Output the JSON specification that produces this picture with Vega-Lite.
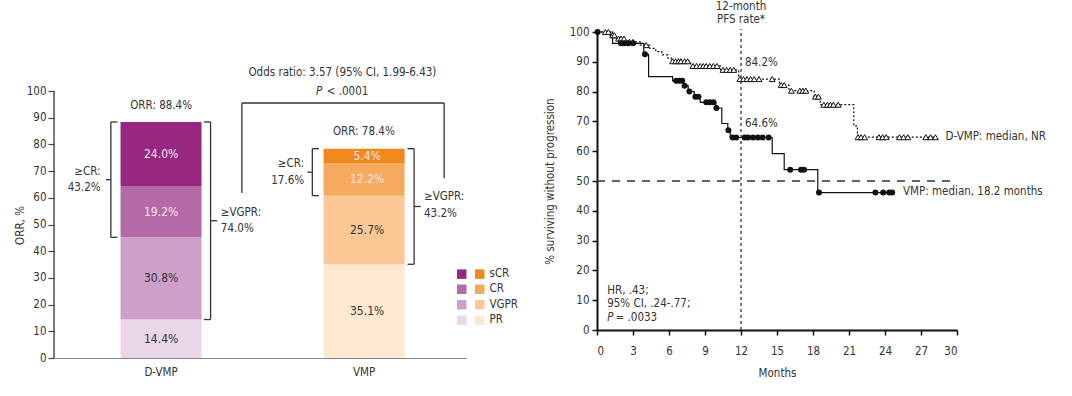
{
  "$schema": "https://vega.github.io/schema/vega-lite/v6.json",
  "background": "white",
  "padding": {"left": 14, "top": 0, "right": 5, "bottom": 5},
  "bounds": "flush",
  "spacing": 131,
  "config": {
    "font": "DejaVu Sans Condensed, DejaVu Sans, sans-serif",
    "view": {"stroke": null},
    "axis": {"grid": false, "labelFontSize": 11.5, "titleFontSize": 11.5, "titleFontWeight": "normal", "labelColor": "#333", "titleColor": "#333"},
    "legend": {"labelFontSize": 11.5, "labelColor": "#333"},
    "text": {"fontSize": 11.5, "color": "#333"}
  },
  "datasets": {
    "orr": [
      {"arm": "D-VMP", "level": "PR", "key": "D PR", "rank": 1, "value": 14.4, "label": "14.4%"},
      {"arm": "D-VMP", "level": "VGPR", "key": "D VGPR", "rank": 2, "value": 30.8, "label": "30.8%"},
      {"arm": "D-VMP", "level": "CR", "key": "D CR", "rank": 3, "value": 19.2, "label": "19.2%"},
      {"arm": "D-VMP", "level": "sCR", "key": "D sCR", "rank": 4, "value": 24.0, "label": "24.0%"},
      {"arm": "VMP", "level": "PR", "key": "V PR", "rank": 1, "value": 35.1, "label": "35.1%"},
      {"arm": "VMP", "level": "VGPR", "key": "V VGPR", "rank": 2, "value": 25.7, "label": "25.7%"},
      {"arm": "VMP", "level": "CR", "key": "V CR", "rank": 3, "value": 12.2, "label": "12.2%"},
      {"arm": "VMP", "level": "sCR", "key": "V sCR", "rank": 4, "value": 5.4, "label": "5.4%"}
    ],
    "lbrk": [
      {"x": 13.8, "x2": 13.8, "y": 45.2, "y2": 88.4},
      {"x": 13.8, "x2": 15.4, "y": 88.4, "y2": 88.4},
      {"x": 13.8, "x2": 15.4, "y": 45.2, "y2": 45.2},
      {"x": 12.6, "x2": 13.8, "y": 66.8, "y2": 66.8},
      {"x": 38.0, "x2": 38.0, "y": 14.4, "y2": 88.4},
      {"x": 36.4, "x2": 38.0, "y": 88.4, "y2": 88.4},
      {"x": 36.4, "x2": 38.0, "y": 14.4, "y2": 14.4},
      {"x": 38.0, "x2": 39.6, "y": 51.4, "y2": 51.4},
      {"x": 62.7, "x2": 62.7, "y": 60.8, "y2": 78.4},
      {"x": 62.7, "x2": 64.3, "y": 78.4, "y2": 78.4},
      {"x": 62.7, "x2": 64.3, "y": 60.8, "y2": 60.8},
      {"x": 61.5, "x2": 62.7, "y": 69.6, "y2": 69.6},
      {"x": 87.4, "x2": 87.4, "y": 35.1, "y2": 78.4},
      {"x": 85.8, "x2": 87.4, "y": 78.4, "y2": 78.4},
      {"x": 85.8, "x2": 87.4, "y": 35.1, "y2": 35.1},
      {"x": 87.4, "x2": 89.0, "y": 56.75, "y2": 56.75},
      {"x": 45.6, "x2": 45.6, "y": 61.8, "y2": 95.5},
      {"x": 45.6, "x2": 94.7, "y": 95.5, "y2": 95.5},
      {"x": 94.7, "x2": 94.7, "y": 67.3, "y2": 95.5}
    ],
    "ltc": [
      {"x": 26.0, "y": 94.4, "text": "ORR: 88.4%"},
      {"x": 75.2, "y": 84.6, "text": "ORR: 78.4%"},
      {"x": 70.0, "y": 106.7, "text": "Odds ratio: 3.57 (95% CI, 1.99-6.43)"}
    ],
    "ltr": [
      {"x": 11.3, "y": 69.8, "text": "≥CR:"},
      {"x": 11.3, "y": 63.8, "text": "43.2%"},
      {"x": 60.7, "y": 72.5, "text": "≥CR:"},
      {"x": 60.7, "y": 66.4, "text": "17.6%"}
    ],
    "ltl": [
      {"x": 40.5, "y": 54.2, "text": "≥VGPR:"},
      {"x": 40.5, "y": 48.2, "text": "74.0%"},
      {"x": 89.8, "y": 60.2, "text": "≥VGPR:"},
      {"x": 89.8, "y": 53.9, "text": "43.2%"},
      {"x": 66.2, "y": 99.6, "text": "< .0001"}
    ],
    "lti": [
      {"x": 63.6, "y": 99.6, "text": "P"}
    ],
    "km": [
      {"arm": "D-VMP", "t": 0, "s": 100},
      {"arm": "D-VMP", "t": 1.1, "s": 98.9},
      {"arm": "D-VMP", "t": 1.6, "s": 97.8},
      {"arm": "D-VMP", "t": 2.4, "s": 96.7},
      {"arm": "D-VMP", "t": 3.6, "s": 95.6},
      {"arm": "D-VMP", "t": 4.4, "s": 94.5},
      {"arm": "D-VMP", "t": 4.9, "s": 93.4},
      {"arm": "D-VMP", "t": 5.4, "s": 92.3},
      {"arm": "D-VMP", "t": 5.9, "s": 91.2},
      {"arm": "D-VMP", "t": 6.2, "s": 90.2},
      {"arm": "D-VMP", "t": 7.8, "s": 88.6},
      {"arm": "D-VMP", "t": 10.3, "s": 87.3},
      {"arm": "D-VMP", "t": 11.8, "s": 84.2},
      {"arm": "D-VMP", "t": 15.2, "s": 82.2},
      {"arm": "D-VMP", "t": 16.0, "s": 80.3},
      {"arm": "D-VMP", "t": 18.1, "s": 78.3},
      {"arm": "D-VMP", "t": 18.6, "s": 75.6},
      {"arm": "D-VMP", "t": 21.4, "s": 68.5},
      {"arm": "D-VMP", "t": 21.7, "s": 64.7},
      {"arm": "D-VMP", "t": 28.2, "s": 64.7},
      {"arm": "VMP", "t": 0, "s": 100},
      {"arm": "VMP", "t": 1.3, "s": 96.2},
      {"arm": "VMP", "t": 3.9, "s": 92.5},
      {"arm": "VMP", "t": 4.3, "s": 85.0},
      {"arm": "VMP", "t": 6.3, "s": 83.6},
      {"arm": "VMP", "t": 7.2, "s": 82.0},
      {"arm": "VMP", "t": 7.6, "s": 80.0},
      {"arm": "VMP", "t": 8.1, "s": 78.3},
      {"arm": "VMP", "t": 8.6, "s": 76.4},
      {"arm": "VMP", "t": 9.9, "s": 74.5},
      {"arm": "VMP", "t": 10.4, "s": 69.3},
      {"arm": "VMP", "t": 10.9, "s": 67.0},
      {"arm": "VMP", "t": 11.1, "s": 64.6},
      {"arm": "VMP", "t": 14.6, "s": 59.2},
      {"arm": "VMP", "t": 15.6, "s": 53.8},
      {"arm": "VMP", "t": 18.4, "s": 46.1},
      {"arm": "VMP", "t": 24.7, "s": 46.1}
    ],
    "cens": [
      {"arm": "D-VMP", "t": 0.7, "s": 100}, {"arm": "D-VMP", "t": 0.95, "s": 100},
      {"arm": "D-VMP", "t": 1.3, "s": 98.9}, {"arm": "D-VMP", "t": 1.45, "s": 98.9},
      {"arm": "D-VMP", "t": 1.8, "s": 97.8}, {"arm": "D-VMP", "t": 2.0, "s": 97.8}, {"arm": "D-VMP", "t": 2.25, "s": 97.8},
      {"arm": "D-VMP", "t": 2.7, "s": 96.7}, {"arm": "D-VMP", "t": 3.0, "s": 96.7},
      {"arm": "D-VMP", "t": 4.1, "s": 95.6},
      {"arm": "D-VMP", "t": 6.3, "s": 90.2}, {"arm": "D-VMP", "t": 6.55, "s": 90.2}, {"arm": "D-VMP", "t": 6.8, "s": 90.2},
      {"arm": "D-VMP", "t": 7.0, "s": 90.2}, {"arm": "D-VMP", "t": 7.3, "s": 90.2}, {"arm": "D-VMP", "t": 7.55, "s": 90.2},
      {"arm": "D-VMP", "t": 8.0, "s": 88.6}, {"arm": "D-VMP", "t": 8.3, "s": 88.6}, {"arm": "D-VMP", "t": 8.6, "s": 88.6},
      {"arm": "D-VMP", "t": 8.85, "s": 88.6}, {"arm": "D-VMP", "t": 9.1, "s": 88.6}, {"arm": "D-VMP", "t": 9.4, "s": 88.6},
      {"arm": "D-VMP", "t": 9.7, "s": 88.6}, {"arm": "D-VMP", "t": 10.0, "s": 88.6},
      {"arm": "D-VMP", "t": 10.5, "s": 87.3}, {"arm": "D-VMP", "t": 10.8, "s": 87.3}, {"arm": "D-VMP", "t": 11.1, "s": 87.3}, {"arm": "D-VMP", "t": 11.4, "s": 87.3},
      {"arm": "D-VMP", "t": 11.9, "s": 84.2}, {"arm": "D-VMP", "t": 12.2, "s": 84.2}, {"arm": "D-VMP", "t": 12.5, "s": 84.2},
      {"arm": "D-VMP", "t": 12.8, "s": 84.2}, {"arm": "D-VMP", "t": 13.1, "s": 84.2}, {"arm": "D-VMP", "t": 13.5, "s": 84.2},
      {"arm": "D-VMP", "t": 14.6, "s": 84.2},
      {"arm": "D-VMP", "t": 15.35, "s": 82.2}, {"arm": "D-VMP", "t": 15.6, "s": 82.2},
      {"arm": "D-VMP", "t": 16.2, "s": 80.3}, {"arm": "D-VMP", "t": 16.9, "s": 80.3}, {"arm": "D-VMP", "t": 17.15, "s": 80.3}, {"arm": "D-VMP", "t": 17.4, "s": 80.3},
      {"arm": "D-VMP", "t": 18.2, "s": 78.3}, {"arm": "D-VMP", "t": 18.45, "s": 78.3},
      {"arm": "D-VMP", "t": 18.9, "s": 75.6}, {"arm": "D-VMP", "t": 19.2, "s": 75.6}, {"arm": "D-VMP", "t": 19.45, "s": 75.6},
      {"arm": "D-VMP", "t": 19.7, "s": 75.6}, {"arm": "D-VMP", "t": 20.1, "s": 75.6},
      {"arm": "D-VMP", "t": 21.75, "s": 64.7}, {"arm": "D-VMP", "t": 22.0, "s": 64.7}, {"arm": "D-VMP", "t": 22.3, "s": 64.7},
      {"arm": "D-VMP", "t": 23.5, "s": 64.7}, {"arm": "D-VMP", "t": 23.8, "s": 64.7}, {"arm": "D-VMP", "t": 24.1, "s": 64.7},
      {"arm": "D-VMP", "t": 25.2, "s": 64.7}, {"arm": "D-VMP", "t": 25.55, "s": 64.7}, {"arm": "D-VMP", "t": 25.9, "s": 64.7},
      {"arm": "D-VMP", "t": 27.4, "s": 64.7}, {"arm": "D-VMP", "t": 27.8, "s": 64.7}, {"arm": "D-VMP", "t": 28.2, "s": 64.7},
      {"arm": "VMP", "t": 0.05, "s": 100},
      {"arm": "VMP", "t": 2.0, "s": 96.2}, {"arm": "VMP", "t": 2.3, "s": 96.2}, {"arm": "VMP", "t": 2.6, "s": 96.2}, {"arm": "VMP", "t": 3.0, "s": 96.2},
      {"arm": "VMP", "t": 4.0, "s": 92.5},
      {"arm": "VMP", "t": 6.6, "s": 83.6}, {"arm": "VMP", "t": 6.85, "s": 83.6}, {"arm": "VMP", "t": 7.1, "s": 83.6},
      {"arm": "VMP", "t": 7.3, "s": 82.0}, {"arm": "VMP", "t": 7.7, "s": 80.0},
      {"arm": "VMP", "t": 8.2, "s": 78.3}, {"arm": "VMP", "t": 8.45, "s": 78.3},
      {"arm": "VMP", "t": 9.1, "s": 76.4}, {"arm": "VMP", "t": 9.4, "s": 76.4}, {"arm": "VMP", "t": 9.7, "s": 76.4},
      {"arm": "VMP", "t": 9.95, "s": 74.5}, {"arm": "VMP", "t": 10.95, "s": 67.0},
      {"arm": "VMP", "t": 11.3, "s": 64.6}, {"arm": "VMP", "t": 11.6, "s": 64.6}, {"arm": "VMP", "t": 12.3, "s": 64.6},
      {"arm": "VMP", "t": 12.6, "s": 64.6}, {"arm": "VMP", "t": 13.0, "s": 64.6}, {"arm": "VMP", "t": 13.4, "s": 64.6},
      {"arm": "VMP", "t": 13.8, "s": 64.6}, {"arm": "VMP", "t": 14.3, "s": 64.6},
      {"arm": "VMP", "t": 16.1, "s": 53.8}, {"arm": "VMP", "t": 17.0, "s": 53.8}, {"arm": "VMP", "t": 17.25, "s": 53.8},
      {"arm": "VMP", "t": 18.5, "s": 46.1}, {"arm": "VMP", "t": 23.2, "s": 46.1}, {"arm": "VMP", "t": 23.85, "s": 46.1},
      {"arm": "VMP", "t": 24.35, "s": 46.1}, {"arm": "VMP", "t": 24.6, "s": 46.1}
    ],
    "rtc": [
      {"x": 12, "y": 108.4, "text": "12-month"},
      {"x": 12, "y": 103.9, "text": "PFS rate*"}
    ],
    "rtl": [
      {"x": 12.33, "y": 89.6, "text": "84.2%"},
      {"x": 12.33, "y": 69.2, "text": "64.6%"},
      {"x": 29.05, "y": 64.9, "text": "D-VMP: median, NR"},
      {"x": 25.5, "y": 46.4, "text": "VMP: median, 18.2 months"},
      {"x": 0.85, "y": 13.1, "text": "HR, .43;"},
      {"x": 0.85, "y": 8.7, "text": "95% CI, .24-.77;"},
      {"x": 1.55, "y": 4.0, "text": "= .0033"}
    ],
    "rti": [
      {"x": 0.85, "y": 4.0, "text": "P"}
    ]
  },
  "hconcat": [
    {
      "width": 412,
      "height": 326,
      "resolve": {"scale": {"x": "independent"}},
      "layer": [
        {
          "data": {"name": "orr"},
          "mark": {"type": "bar"},
          "encoding": {
            "x": {"field": "arm", "type": "nominal", "sort": ["D-VMP", "VMP"],
                  "scale": {"paddingInner": 0.601, "paddingOuter": 0.315, "align": 0.52},
                  "axis": {"title": null, "labelAngle": 0, "ticks": false, "tickSize": 0, "domainColor": "#888", "domainWidth": 1, "labelPadding": 8}},
            "y": {"field": "value", "type": "quantitative", "stack": "zero",
                  "scale": {"domain": [0, 122.1], "nice": false},
                  "axis": {"values": [0, 10, 20, 30, 40, 50, 60, 70, 80, 90, 100], "tickCount": 20, "labelOverlap": false, "domain": false, "tickColor": "#444", "tickSize": 6, "tickWidth": 1.2, "labelPadding": 2, "title": "ORR, %", "titleY": 193, "titlePadding": 1}},
            "color": {"field": "key", "type": "nominal",
                      "scale": {"domain": ["D sCR", "D CR", "D VGPR", "D PR", "V sCR", "V CR", "V VGPR", "V PR"],
                                "range": ["#972781", "#b46aa7", "#cda0ca", "#e9d6e9", "#f0891d", "#f6aa5f", "#fbc895", "#fde8d2"]},
                      "legend": {"title": null, "orient": "none", "legendX": 402, "legendY": 236, "columns": 2, "columnPadding": 2, "rowPadding": 2.5, "padding": 0,
                                 "symbolType": "square", "symbolSize": 90, "symbolStrokeWidth": 0, "symbolOpacity": 1, "labelOffset": 4,
                                 "labelExpr": "indexof(datum.label, 'D ') == 0 ? '' : substring(datum.label, 2)"}},
            "order": {"field": "rank", "type": "quantitative"}
          }
        },
        {
          "data": {"name": "orr"},
          "mark": {"type": "text", "fontSize": 12},
          "encoding": {
            "x": {"field": "arm", "type": "nominal", "sort": ["D-VMP", "VMP"], "scale": {"paddingInner": 0.601, "paddingOuter": 0.315, "align": 0.52}, "axis": null},
            "y": {"field": "value", "type": "quantitative", "stack": "zero", "bandPosition": 0.5},
            "detail": {"field": "key"},
            "order": {"field": "rank", "type": "quantitative"},
            "text": {"field": "label"},
            "color": {"condition": {"test": "datum.level == 'sCR' || datum.level == 'CR'", "value": "#fbe6f3"}, "value": "#333333"}
          }
        },
        {
          "data": {"values": [{}]},
          "mark": {"type": "rule", "color": "#444", "strokeWidth": 1.4},
          "encoding": {
            "x": {"datum": 0, "type": "quantitative", "scale": {"domain": [0, 100]}, "axis": null},
            "y": {"datum": 0, "type": "quantitative"},
            "y2": {"datum": 100}
          }
        },
        {
          "data": {"name": "lbrk"},
          "mark": {"type": "rule", "color": "#333", "strokeWidth": 1.3},
          "encoding": {
            "x": {"field": "x", "type": "quantitative", "scale": {"domain": [0, 100]}, "axis": null},
            "x2": {"field": "x2"},
            "y": {"field": "y", "type": "quantitative"},
            "y2": {"field": "y2"}
          }
        },
        {
          "data": {"name": "ltc"},
          "mark": {"type": "text", "align": "center"},
          "encoding": {
            "x": {"field": "x", "type": "quantitative", "scale": {"domain": [0, 100]}, "axis": null},
            "y": {"field": "y", "type": "quantitative"},
            "text": {"field": "text"}
          }
        },
        {
          "data": {"name": "ltr"},
          "mark": {"type": "text", "align": "right"},
          "encoding": {
            "x": {"field": "x", "type": "quantitative", "scale": {"domain": [0, 100]}, "axis": null},
            "y": {"field": "y", "type": "quantitative"},
            "text": {"field": "text"}
          }
        },
        {
          "data": {"name": "ltl"},
          "mark": {"type": "text", "align": "left"},
          "encoding": {
            "x": {"field": "x", "type": "quantitative", "scale": {"domain": [0, 100]}, "axis": null},
            "y": {"field": "y", "type": "quantitative"},
            "text": {"field": "text"}
          }
        },
        {
          "data": {"name": "lti"},
          "mark": {"type": "text", "align": "left", "fontStyle": "italic"},
          "encoding": {
            "x": {"field": "x", "type": "quantitative", "scale": {"domain": [0, 100]}, "axis": null},
            "y": {"field": "y", "type": "quantitative"},
            "text": {"field": "text"}
          }
        }
      ]
    },
    {
      "width": 360,
      "height": 298,
      "encoding": {
        "x": {"type": "quantitative", "scale": {"domain": [0, 30], "nice": false},
              "axis": {"values": [0, 3, 6, 9, 12, 15, 18, 21, 24, 27, 30], "title": "Months", "domainColor": "#111", "domainWidth": 2, "tickColor": "#111", "tickWidth": 1.5, "tickSize": 5, "labelPadding": 10, "titlePadding": 11}},
        "y": {"type": "quantitative", "scale": {"domain": [0, 100], "nice": false},
              "axis": {"values": [0, 10, 20, 30, 40, 50, 60, 70, 80, 90, 100], "title": "% surviving without progression", "domainColor": "#111", "domainWidth": 2, "tickColor": "#111", "tickWidth": 1.5, "tickSize": 5, "labelPadding": 3, "titlePadding": 14}}
      },
      "layer": [
        {
          "data": {"values": [{}]},
          "mark": {"type": "rule", "color": "#333", "strokeWidth": 1.3, "strokeDash": [3, 3]},
          "encoding": {
            "x": {"datum": 12, "type": "quantitative"},
            "y": {"datum": 0, "type": "quantitative"},
            "y2": {"datum": 101}
          }
        },
        {
          "data": {"values": [{}]},
          "mark": {"type": "rule", "color": "#333", "strokeWidth": 1.3, "strokeDash": [8, 7]},
          "encoding": {
            "y": {"datum": 50, "type": "quantitative"},
            "x": {"datum": 0, "type": "quantitative"},
            "x2": {"datum": 30}
          }
        },
        {
          "data": {"name": "km"},
          "mark": {"type": "line", "interpolate": "step-after", "color": "#111", "strokeWidth": 1.2},
          "encoding": {
            "x": {"field": "t", "type": "quantitative"},
            "y": {"field": "s", "type": "quantitative"},
            "detail": {"field": "arm"},
            "strokeDash": {"field": "arm", "type": "nominal", "scale": {"domain": ["D-VMP", "VMP"], "range": [[2, 2], [1, 0]]}, "legend": null}
          }
        },
        {
          "data": {"name": "cens"},
          "transform": [{"filter": "datum.arm == 'D-VMP'"}],
          "mark": {"type": "point", "shape": "triangle-up", "filled": true, "fill": "white", "stroke": "#111", "strokeWidth": 1, "size": 34, "opacity": 1},
          "encoding": {
            "x": {"field": "t", "type": "quantitative"},
            "y": {"field": "s", "type": "quantitative"}
          }
        },
        {
          "data": {"name": "cens"},
          "transform": [{"filter": "datum.arm == 'VMP'"}],
          "mark": {"type": "point", "shape": "circle", "filled": true, "color": "#111", "size": 36, "opacity": 1},
          "encoding": {
            "x": {"field": "t", "type": "quantitative"},
            "y": {"field": "s", "type": "quantitative"}
          }
        },
        {
          "data": {"name": "rtc"},
          "mark": {"type": "text", "align": "center"},
          "encoding": {
            "x": {"field": "x", "type": "quantitative"},
            "y": {"field": "y", "type": "quantitative"},
            "text": {"field": "text"}
          }
        },
        {
          "data": {"name": "rtl"},
          "mark": {"type": "text", "align": "left"},
          "encoding": {
            "x": {"field": "x", "type": "quantitative"},
            "y": {"field": "y", "type": "quantitative"},
            "text": {"field": "text"}
          }
        },
        {
          "data": {"name": "rti"},
          "mark": {"type": "text", "align": "left", "fontStyle": "italic"},
          "encoding": {
            "x": {"field": "x", "type": "quantitative"},
            "y": {"field": "y", "type": "quantitative"},
            "text": {"field": "text"}
          }
        }
      ]
    }
  ]
}
